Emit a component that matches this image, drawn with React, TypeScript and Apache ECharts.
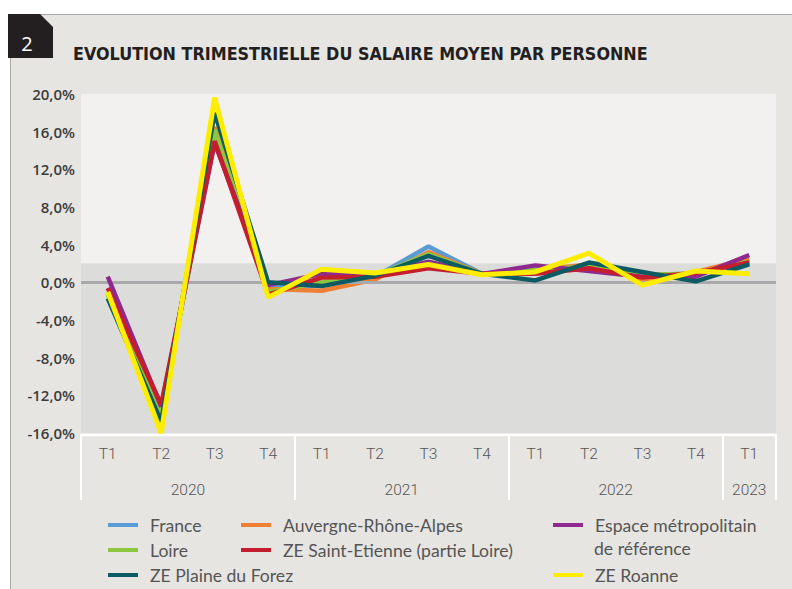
import React, { useEffect, useRef } from "react";
import * as echarts from "echarts";

const quarters = ["T1", "T2", "T3", "T4", "T1", "T2", "T3", "T4", "T1", "T2", "T3", "T4", "T1"];
const years = ["2020", "2021", "2022", "2023"];
const yearCenters = [2, 6, 10, 12.5];
const yearBounds = [0, 4, 8, 12, 13];

const france = [-1.2, -14.3, 16.2, -0.6, -0.3, 0.6, 3.8, 0.9, 1.2, 1.7, 0.8, 0.9, 2.3];
const auvergne = [-1.0, -14.0, 16.5, -0.7, -0.9, 0.3, 3.2, 0.9, 1.3, 1.9, 0.3, 1.1, 2.5];
const loire = [-1.3, -13.9, 16.2, -1.0, 0.0, 0.7, 3.0, 0.9, 1.3, 1.7, 0.8, 0.9, 2.2];
const espace = [0.6, -13.2, 14.8, -0.3, 0.9, 0.9, 2.2, 0.9, 1.8, 1.2, 0.6, 0.6, 2.9];
const saintEtienne = [-0.6, -13.0, 15.0, -1.3, 0.5, 0.6, 1.5, 0.9, 0.9, 1.5, 0.5, 1.0, 2.1];
const plaineForez = [-1.7, -14.8, 18.0, 0.0, -0.4, 0.7, 2.8, 0.9, 0.2, 2.1, 1.1, 0.1, 1.9];
const roanne = [-1.0, -16.0, 19.6, -1.6, 1.4, 1.0, 1.9, 0.8, 1.1, 3.1, -0.3, 1.2, 0.9];

const seriesDefs = [
  { name: "France", data: france, color: "#5b9bd5" },
  { name: "Auvergne-Rhône-Alpes", data: auvergne, color: "#ef7f33" },
  { name: "Loire", data: loire, color: "#8dc63f" },
  { name: "Espace métropolitain de référence", data: espace, color: "#8e2a8f" },
  { name: "ZE Saint-Etienne (partie Loire)", data: saintEtienne, color: "#c41e2e" },
  { name: "ZE Plaine du Forez", data: plaineForez, color: "#0c5b62" },
  { name: "ZE Roanne", data: roanne, color: "#ffed00" },
];

const legendPos: Record<string, [number, number]> = {
  "France": [108, 515],
  "Loire": [108, 540],
  "ZE Plaine du Forez": [108, 565],
  "Auvergne-Rhône-Alpes": [241, 515],
  "ZE Saint-Etienne (partie Loire)": [241, 540],
  "Espace métropolitain de référence": [553, 515],
  "ZE Roanne": [553, 565],
};

const LEG_FONT = "Lato, 'Open Sans', sans-serif";
const LEG_SIZE = 17.6;

export default function App() {
  const ref = useRef<HTMLDivElement>(null);
  useEffect(() => {
    if (!ref.current) return;
    const chart = echarts.init(ref.current, null, { renderer: "svg" });
    const legends = seriesDefs.map((s) => ({
      data: [s.name],
      left: legendPos[s.name][0],
      top: legendPos[s.name][1],
      padding: 0,
      icon: "rect",
      itemWidth: 30,
      itemHeight: 4,
      selectedMode: false,
      formatter: (n: string) => (n === "Espace métropolitain de référence" ? "Espace métropolitain" : n),
      textStyle: {
        fontFamily: LEG_FONT,
        fontSize: LEG_SIZE,
        color: "#555555",
        lineHeight: 20,
        padding: [0, 0, 0, 7],
      },
    }));
    const baseGraphic: any[] = [
      { id: "bg", type: "rect", shape: { x: 10, y: 14, width: 782, height: 575 }, style: { fill: "#e6e5e2" }, z: -10 },
      { id: "bt", type: "line", shape: { x1: 8, y1: 14.5, x2: 792, y2: 14.5 }, style: { stroke: "#a8a8a8", lineWidth: 1 }, z: -9 },
      { id: "bl", type: "line", shape: { x1: 10.5, y1: 14, x2: 10.5, y2: 589 }, style: { stroke: "#a8a8a8", lineWidth: 1 }, z: -9 },
      {
        id: "badge",
        type: "polygon",
        shape: { points: [[8, 14], [40, 14], [53, 27], [53, 58], [8, 58]] },
        style: { fill: "#231f20" },
        z: 10,
      },
      {
        id: "badgeText",
        type: "text",
        x: 27,
        y: 43,
        style: { text: "2", fill: "#ffffff", font: "20px 'Open Sans', sans-serif", textAlign: "center", textVerticalAlign: "middle" },
        z: 11,
      },
      {
        id: "title",
        type: "text",
        x: 73,
        y: 53,
        style: {
          text: "EVOLUTION TRIMESTRIELLE DU SALAIRE MOYEN PAR PERSONNE",
          fill: "#231f20",
          font: "bold 17.8px 'DejaVu Sans Condensed', 'Liberation Sans Narrow', Roboto, sans-serif",
          textVerticalAlign: "middle",
        },
        z: 11,
      },
      {
        id: "legSub",
        type: "text",
        x: 594,
        y: 548,
        style: {
          text: "de référence",
          fill: "#555555",
          font: LEG_SIZE + "px " + LEG_FONT,
          textVerticalAlign: "middle",
        },
        z: 11,
      },
    ];
    const option: any = {
      animation: false,
      backgroundColor: "#ffffff",
      grid: { left: 81, right: 16, top: 94, bottom: 156, containLabel: false },
      legend: legends,
      graphic: baseGraphic,
      xAxis: [
        {
          type: "category",
          data: quarters,
          boundaryGap: true,
          position: "bottom",
          axisLine: { show: false },
          axisTick: { show: false },
          axisLabel: { color: "#555555", fontSize: 15.5, margin: 13, fontFamily: "Roboto, sans-serif", fontWeight: 300 },
          splitLine: { show: false },
        },
        {
          type: "value",
          min: 0,
          max: 13,
          position: "bottom",
          axisLine: { show: false },
          axisTick: { show: false },
          axisLabel: {
            show: true,
            customValues: yearCenters,
            margin: 49,
            color: "#555555",
            fontSize: 15.5,
            fontFamily: "Roboto, sans-serif",
            fontWeight: 300,
            formatter: (v: number) => {
              const i = yearCenters.indexOf(v);
              return i >= 0 ? years[i] : "";
            },
          },
          splitLine: { show: false },
        },
      ],
      yAxis: {
        type: "value",
        min: -16,
        max: 20,
        interval: 4,
        axisLine: { show: false },
        axisTick: { show: false },
        splitLine: { show: false },
        axisLabel: {
          color: "#3c3c3c",
          fontSize: 15,
          fontWeight: 600,
          fontFamily: "'Open Sans', sans-serif",
          margin: 6,
          formatter: (v: number) => v.toFixed(1).replace(".", ",") + "%",
        },
      },
      series: [
        {
          type: "line",
          name: "__bg",
          data: quarters.map(() => null),
          z: 1,
          silent: true,
          markArea: {
            silent: true,
            data: [
              [{ yAxis: 2, itemStyle: { color: "#f2f1ef" } }, { yAxis: 20 }],
              [{ yAxis: -16, itemStyle: { color: "#dcdcdb" } }, { yAxis: 2 }],
            ],
          },
          markLine: {
            silent: true,
            symbol: "none",
            label: { show: false },
            lineStyle: { color: "#a9a9ab", width: 3, type: "solid" },
            data: [{ yAxis: 0 }],
          },
        },
        ...seriesDefs.map((s, i) => ({
          type: "line",
          name: s.name,
          data: s.data,
          color: s.color,
          showSymbol: false,
          symbol: "none",
          z: 3 + i,
          lineStyle: { color: s.color, width: s.name === "ZE Roanne" ? 5 : 4.5 },
          itemStyle: { color: s.color },
        })),
      ],
    };
    chart.setOption(option);

    // separators derived from axis scale
    const yBottom = chart.convertToPixel({ yAxisIndex: 0 }, -16) as number;
    const xs = yearBounds.map((b) => chart.convertToPixel({ xAxisIndex: 1 }, b) as number);
    const extra: any[] = [
      {
        id: "axisWhite",
        type: "line",
        shape: { x1: xs[0], y1: yBottom + 2, x2: xs[xs.length - 1], y2: yBottom + 2 },
        style: { stroke: "#ffffff", lineWidth: 2.5 },
        z: 5,
      },
      ...xs.map((x, i) => ({
        id: "sep" + i,
        type: "line",
        shape: { x1: Math.round(x), y1: yBottom + 1, x2: Math.round(x), y2: yBottom + 67 },
        style: { stroke: "#ffffff", lineWidth: 2 },
        z: 5,
      })),
    ];
    chart.setOption({ graphic: [...baseGraphic, ...extra] });
    return () => chart.dispose();
  }, []);
  return <div ref={ref} style={{ position: "fixed", left: 0, top: 0, width: 792, height: 589 }} />;
}
